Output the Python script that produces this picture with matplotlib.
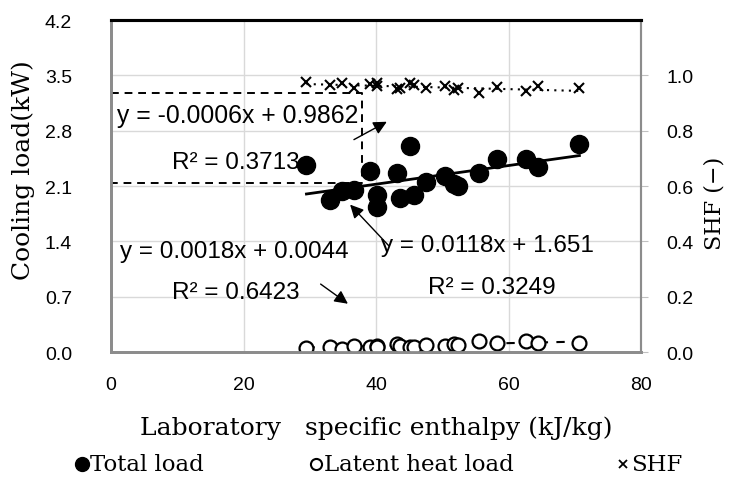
import numpy as np
import matplotlib
matplotlib.use("Agg")
import matplotlib.pyplot as plt
from matplotlib.lines import Line2D

# enthalpy (kJ/kg) of each measurement
enthalpy = [29.5, 33.1, 34.8, 36.7, 39.1, 40.1, 40.2, 43.1, 43.6, 45.1,
            45.7, 47.5, 50.4, 51.7, 52.4, 55.6, 58.2, 62.7, 64.5, 70.7]
# cooling loads (kW)
total_load = [2.37, 1.92, 2.04, 2.05, 2.29, 1.84, 1.99, 2.26, 1.95, 2.61,
              1.98, 2.15, 2.23, 2.12, 2.10, 2.26, 2.44, 2.44, 2.34, 2.63]
latent_load = [0.05, 0.06, 0.04, 0.08, 0.06, 0.07, 0.06, 0.10, 0.08, 0.06,
               0.06, 0.09, 0.08, 0.10, 0.09, 0.135, 0.11, 0.135, 0.11, 0.12]
# sensible heat factor (-)
shf = [0.977, 0.965, 0.972, 0.953, 0.969, 0.972, 0.960, 0.950, 0.955, 0.972,
       0.965, 0.953, 0.960, 0.948, 0.955, 0.936, 0.957, 0.944, 0.960, 0.953]

# trend line coefficients (slope, intercept) as printed on the chart
fit_total = (0.0118, 1.651)
fit_latent = (0.0018, 0.0044)
fit_shf = (-0.0006, 0.9862)

serif = "DejaVu Serif"
sans = "Liberation Sans"
grey = "#8c8c8c"

fig = plt.figure(figsize=(7.38, 4.81), dpi=100)
ax = fig.add_axes([0.1504, 0.2661, 0.7182, 0.6902])
ax2 = ax.twinx()

x = np.array(enthalpy)
xl = np.array([x.min(), x.max()])

# --- left axis: loads ---
ax.plot(x, total_load, "o", color="black", ms=13, zorder=4)
ax.plot(xl, fit_total[0] * xl + fit_total[1], color="black", lw=2, zorder=3)
ax.plot(x, latent_load, "o", mfc="white", mec="black", mew=1.6, ms=10, zorder=4)
ax.plot(xl, fit_latent[0] * xl + fit_latent[1], color="black", lw=1.5,
        ls=(0, (4, 4)), zorder=3)

ax.set_xlim(0, 80)
ax.set_ylim(0, 4.2)
ax.set_xticks([0, 20, 40, 60, 80])
ax.set_yticks(np.arange(0, 4.21, 0.7))
ax.set_yticklabels([f"{v:.1f}" for v in np.arange(0, 4.21, 0.7)])
ax.grid(True, color="#d9d9d9", lw=1)
ax.set_axisbelow(True)
ax.tick_params(axis="x", length=0, labelsize=14, pad=17)
ax.tick_params(axis="y", length=0, labelsize=14, pad=28)
for lab in ax.get_xticklabels() + ax.get_yticklabels():
    lab.set_fontfamily(sans)

# --- right axis: SHF ---
ax2.plot(x, shf, "x", color="black", ms=7, mew=1.5, zorder=4)
ax2.plot(xl, fit_shf[0] * xl + fit_shf[1], color="black", lw=1.5,
         ls=(0, (1, 2.5)), zorder=3)
ax2.set_ylim(0, 1.2)
ax2.set_yticks([0.0, 0.2, 0.4, 0.6, 0.8, 1.0])
ax2.set_yticklabels(["0.0", "0.2", "0.4", "0.6", "0.8", "1.0"])
ax2.tick_params(axis="y", length=5, color="#c0c0c0", labelsize=14, pad=13)
for lab in ax2.get_yticklabels():
    lab.set_fontfamily(sans)

for a in (ax, ax2):
    a.spines["top"].set_color("black")
    a.spines["top"].set_linewidth(2.2)
    a.spines["left"].set_color(grey)
    a.spines["left"].set_linewidth(2)
    a.spines["bottom"].set_color(grey)
    a.spines["bottom"].set_linewidth(2)
    a.spines["right"].set_color(grey)
    a.spines["right"].set_linewidth(1.5)

ax.set_xlabel("Laboratory   specific enthalpy (kJ/kg)", family=serif,
              fontsize=18)
ax.xaxis.set_label_coords(0.5, -0.192)
ax.set_ylabel("Cooling load(kW)", family=serif, fontsize=18)
ax.yaxis.set_label_coords(-0.143, 0.55)
ax2.set_ylabel("SHF (\u2212)", family=serif, fontsize=16)
ax2.yaxis.set_label_coords(1.117, 0.45)

# --- trend line labels ---
ax.plot([0, 37.9, 37.9, 0], [3.28, 3.28, 2.14, 2.14], color="black", lw=1.4,
        ls=(0, (4, 3)), zorder=5, clip_on=False)
ax.text(0.9, 3.0, "y = -0.0006x + 0.9862", family=sans, fontsize=17.8,
        va="center", zorder=6)
ax.text(9.2, 2.40, "R\u00b2 = 0.3713", family=sans, fontsize=17.5,
        va="center", zorder=3)
ax.annotate("", xy=(42.0, 2.93), xytext=(36.3, 2.67),
            arrowprops=dict(arrowstyle="-|>", color="black", lw=1,
                            mutation_scale=20))

ax.text(1.4, 1.28, "y = 0.0018x + 0.0044", family=sans, fontsize=17.5,
        va="center")
ax.text(9.2, 0.76, "R\u00b2 = 0.6423", family=sans, fontsize=17.5,
        va="center")
ax.annotate("", xy=(36.1, 0.59), xytext=(31.3, 0.88),
            arrowprops=dict(arrowstyle="-|>", color="black", lw=1,
                            mutation_scale=20))

ax.text(40.8, 1.35, "y = 0.0118x + 1.651", family=sans, fontsize=17.5,
        va="center")
ax.text(47.8, 0.82, "R\u00b2 = 0.3249", family=sans, fontsize=17.5,
        va="center")
ax.annotate("", xy=(35.8, 1.89), xytext=(42.2, 1.32),
            arrowprops=dict(arrowstyle="-|>", color="black", lw=1,
                            mutation_scale=20))

# --- legend (laid out by hand, one row under the x label) ---
leg_y = 1 - 465 / 481
leg_items = [
    (82, dict(marker="o", color="black", ms=10), "Total load"),
    (316, dict(marker="o", mfc="white", mec="black", mew=1.5, ms=8), "Latent heat load"),
    (623, dict(marker="x", color="black", ms=6, mew=1.3), "SHF"),
]
for px, style, label in leg_items:
    fig.add_artist(Line2D([px / 738], [leg_y], ls="none",
                          transform=fig.transFigure, **style))
    fig.text((px + 8) / 738, leg_y, label, family=serif, fontsize=16.5,
             va="center", ha="left")

fig.savefig("out.png", dpi=100)
